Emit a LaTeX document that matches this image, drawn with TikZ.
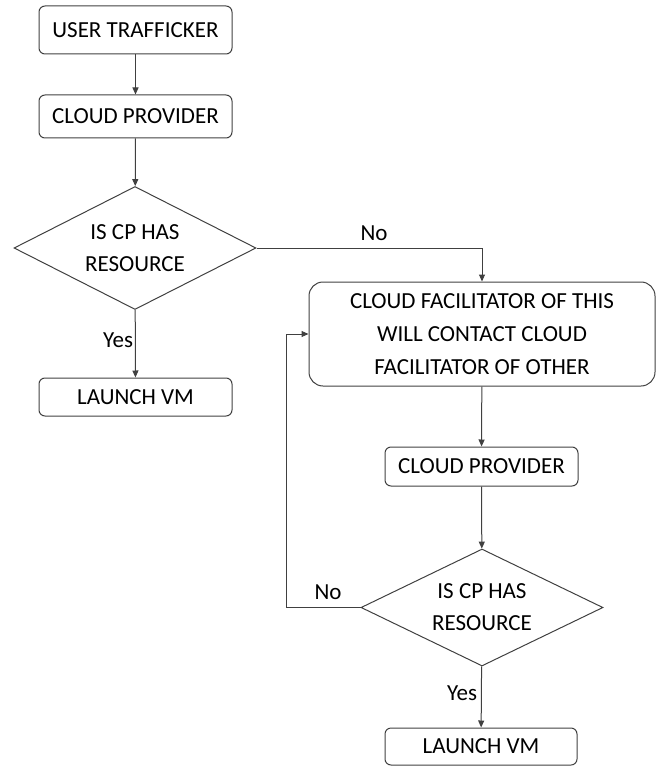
\documentclass[tikz,border=0pt]{standalone}
\usepackage{fontspec}
\setmainfont{Carlito}
\usetikzlibrary{shapes.geometric,arrows.meta}
\definecolor{ln}{HTML}{404040}
\begin{document}
\begin{tikzpicture}[x=1pt,y=-1pt,
  font=\fontsize{23}{32}\selectfont,
  box/.style={draw=ln,line width=1pt,rounded corners=6pt,inner sep=0pt,align=center},
  dec/.style={draw=ln,line width=1pt,diamond,aspect=2,inner sep=0pt,align=center},
  arr/.style={draw=ln,line width=1pt,-{Triangle[length=7pt,width=6pt]}},
  lbl/.style={inner sep=0pt}]
\useasboundingbox (0,0) rectangle (662,767);
\node[box,minimum width=193pt,minimum height=48pt] (u1) at (135.5,30) {USER TRAFFICKER};
\node[box,minimum width=193pt,minimum height=43pt] (cp1) at (135.5,116.5) {CLOUD PROVIDER};
\node[dec,minimum width=242pt,minimum height=123pt] (d1) at (135,248) {IS CP HAS\\RESOURCE};
\node[box,minimum width=193pt,minimum height=38pt] (lv1) at (135.5,397) {LAUNCH VM};
\node[box,minimum width=346pt,minimum height=104pt,rounded corners=14pt,font=\fontsize{23}{33}\selectfont] (cf) at (482,334) {CLOUD FACILITATOR OF THIS\\WILL CONTACT CLOUD\\FACILITATOR OF OTHER};
\node[box,minimum width=193pt,minimum height=39pt] (cp2) at (481.5,466.5) {CLOUD PROVIDER};
\node[dec,minimum width=242pt,minimum height=117pt] (d2) at (482,607.5) {IS CP HAS\\RESOURCE};
\node[box,minimum width=192pt,minimum height=37pt] (lv2) at (481,746.5) {LAUNCH VM};
\coordinate (lp) at (286,607.5);
\draw[arr] (u1) -- (cp1);
\draw[arr] (cp1) -- (d1);
\draw[arr] (d1.east) -| (cf.north);
\node[lbl] (no1) at (374,233) {No};
\draw[arr] (d1) -- (lv1);
\node[lbl] (yes1) at (118,340) {Yes};
\draw[arr] (cf) -- (cp2);
\draw[arr] (cp2) -- (d2);
\draw[arr] (d2.west) -- (lp) |- (cf.west);
\node[lbl] (no2) at (328,592) {No};
\draw[arr] (d2) -- (lv2);
\node[lbl] (yes2) at (462,693) {Yes};
\end{tikzpicture}
\end{document}
